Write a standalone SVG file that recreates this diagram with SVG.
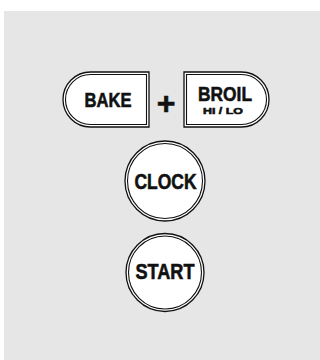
<svg xmlns="http://www.w3.org/2000/svg" width="320" height="360" viewBox="0 0 320 360">
<style>
.o{fill:#fff;stroke:#111;stroke-width:1.3}
.i{fill:none;stroke:#111;stroke-width:1.1}
.t{font-family:"Liberation Sans",Arial,sans-serif;font-weight:bold;fill:#111;stroke:#111;stroke-width:0.6;text-anchor:middle}
</style>
<rect x="0" y="0" width="320" height="360" fill="#fff"/>
<rect x="4" y="11" width="316" height="349" fill="#e6e6e6"/>
<g id="bake">
<path class="o" d="M149,72 V127 H90.5 A27.5,27.5 0 0 1 90.5,72 Z"/>
<path class="i" d="M146.5,74.5 V124.5 H90.5 A25,25 0 0 1 90.5,74.5 Z"/>
<text class="t" x="108" y="106.5" font-size="20" textLength="47" lengthAdjust="spacingAndGlyphs">BAKE</text>
</g>
<g id="plus">
<text class="t" x="166" y="114" font-size="32">+</text>
</g>
<g id="broil">
<path class="o" d="M184,72 V127 H241.5 A27.5,27.5 0 0 0 241.5,72 Z"/>
<path class="i" d="M186.5,74.5 V124.5 H241.5 A25,25 0 0 0 241.5,74.5 Z"/>
<text class="t" x="225" y="100.5" font-size="21" textLength="54" lengthAdjust="spacingAndGlyphs">BROIL</text>
<text class="t" x="223" y="113.5" font-size="9.5" stroke-width="0.3" textLength="40" lengthAdjust="spacingAndGlyphs">HI / LO</text>
</g>
<g id="clock">
<circle class="o" cx="165" cy="181" r="40"/>
<circle class="i" cx="165" cy="181" r="37.5"/>
<text class="t" x="165.5" y="188.5" font-size="22" textLength="62" lengthAdjust="spacingAndGlyphs">CLOCK</text>
</g>
<g id="start">
<circle class="o" cx="165" cy="272.5" r="39"/>
<circle class="i" cx="165" cy="272.5" r="36.5"/>
<text class="t" x="165" y="278.5" font-size="22" textLength="59" lengthAdjust="spacingAndGlyphs">START</text>
</g>
<g id="connectors"/>
</svg>
